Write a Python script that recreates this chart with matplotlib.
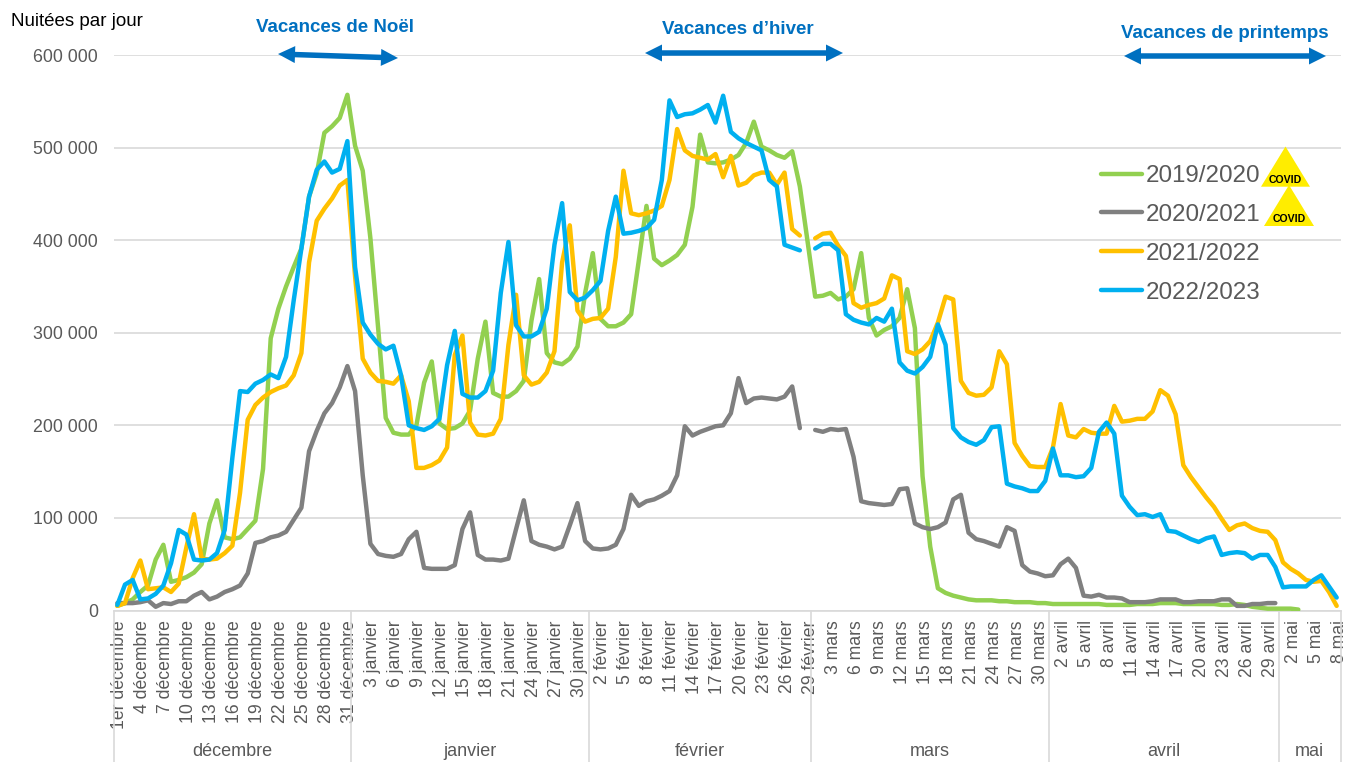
import numpy as np
import matplotlib
matplotlib.use("Agg")
import matplotlib.pyplot as plt
from matplotlib.patches import Polygon
from matplotlib.transforms import ScaledTranslation

plt.rcParams["font.family"] = ["Liberation Sans", "DejaVu Sans"]

W, H = 1347, 762
nan = np.nan

months = ["décembre", "janvier", "février", "mars", "avril", "mai"]
month_days = [31, 31, 29, 31, 30, 8]

# nuitees par jour, in thousands, from 1 Dec to 8 May
s2019 = [
    5, 8, 12, 20, 27, 55, 71, 31, 33, 36,
    41, 50, 94, 119, 79, 77, 79, 88, 97, 153,
    294, 326, 350, 371, 391, 447, 472, 516, 523, 532,
    557, 502, 475, 402, 306, 208, 192, 190, 190, 200,
    246, 269, 202, 196, 197, 202, 216, 272, 312, 235,
    231, 231, 237, 248, 313, 358, 278, 268, 266, 272,
    285, 343, 386, 315, 307, 307, 311, 320, 378, 437,
    380, 373, 378, 384, 395, 436, 514, 484, 483, 484,
    487, 492, 505, 528, 501, 497, 492, 489, 496, 458,
    399, 339, 340, 343, 336, 339, 347, 386, 316, 297,
    303, 307, 316, 347, 305, 145, 69, 24, 19, 16,
    14, 12, 11, 11, 11, 10, 10, 9, 9, 9,
    8, 8, 7, 7, 7, 7, 7, 7, 7, 6,
    6, 6, 6, 7, 7, 7, 8, 8, 8, 7,
    7, 7, 7, 7, 6, 6, 7, 6, 4, 3,
    2, 2, 2, 2, 1, nan, nan, nan, nan, nan,
]
s2020 = [
    8, 8, 8, 9, 11, 4, 8, 7, 10, 10,
    16, 20, 12, 15, 20, 23, 27, 40, 73, 75,
    79, 81, 85, 98, 111, 172, 194, 213, 224, 241,
    264, 237, 146, 72, 61, 59, 58, 61, 77, 85,
    46, 45, 45, 45, 49, 88, 106, 60, 55, 55,
    54, 56, 88, 119, 75, 71, 69, 66, 69, 92,
    116, 75, 67, 66, 67, 71, 88, 125, 113, 118,
    120, 124, 129, 146, 199, 189, 193, 196, 199, 200,
    213, 251, 224, 229, 230, 229, 228, 231, 242, 197,
    nan, 195, 193, 196, 195, 196, 166, 118, 116, 115,
    114, 115, 131, 132, 94, 90, 88, 90, 95, 120,
    125, 84, 77, 75, 72, 69, 90, 86, 49, 42,
    40, 37, 38, 50, 56, 46, 16, 15, 17, 14,
    14, 13, 9, 9, 9, 10, 12, 12, 12, 9,
    9, 10, 10, 10, 12, 12, 5, 5, 7, 7,
    8, 8, nan, nan, nan, nan, nan, nan, nan, nan,
]
s2021 = [
    5, 8, 35, 54, 23, 24, 25, 20, 29, 68,
    104, 56, 55, 56, 62, 70, 127, 206, 222, 230,
    236, 240, 243, 254, 278, 376, 421, 434, 445, 459,
    465, 361, 272, 257, 248, 247, 245, 254, 226, 154,
    154, 157, 162, 176, 276, 297, 203, 190, 189, 191,
    207, 287, 341, 254, 244, 247, 257, 280, 376, 416,
    324, 312, 315, 316, 326, 382, 475, 429, 427, 429,
    432, 437, 465, 520, 497, 491, 489, 487, 493, 468,
    491, 459, 462, 470, 473, 473, 460, 473, 412, 405,
    nan, 402, 407, 408, 394, 383, 332, 327, 330, 332,
    337, 362, 358, 280, 277, 282, 291, 311, 339, 336,
    248, 235, 232, 233, 241, 280, 266, 181, 167, 156,
    155, 155, 176, 223, 189, 187, 196, 192, 191, 191,
    221, 204, 205, 207, 207, 215, 238, 232, 212, 157,
    144, 133, 122, 112, 99, 87, 92, 94, 89, 86,
    85, 76, 52, 45, 40, 33, 31, 32, 20, 5,
]
s2022 = [
    6, 28, 33, 12, 13, 18, 27, 51, 87, 82,
    55, 54, 55, 62, 87, 165, 237, 236, 245, 249,
    255, 251, 274, 335, 391, 447, 476, 485, 473, 477,
    507, 371, 311, 298, 288, 282, 286, 254, 200, 197,
    195, 199, 207, 265, 302, 234, 230, 230, 237, 259,
    343, 398, 308, 296, 296, 301, 326, 395, 440, 344,
    335, 338, 346, 356, 410, 447, 407, 408, 410, 413,
    422, 465, 551, 533, 536, 537, 541, 546, 527, 556,
    517, 510, 505, 501, 497, 465, 458, 395, 392, 389,
    nan, 391, 396, 396, 389, 320, 314, 311, 309, 316,
    312, 326, 268, 259, 256, 263, 274, 309, 287, 197,
    187, 182, 179, 184, 198, 199, 137, 134, 132, 129,
    129, 140, 175, 146, 146, 144, 145, 154, 193, 203,
    191, 124, 112, 103, 104, 101, 104, 86, 85, 81,
    77, 74, 78, 80, 60, 62, 63, 62, 56, 60,
    60, 47, 25, 26, 26, 26, 33, 38, 26, 14,
]
series = ["2019/2020", "2020/2021", "2021/2022", "2022/2023"]
colors = ["#92D050", "#808080", "#FFC000", "#00B0F0"]


def fx(px):
    return px / W


def fy(py):
    return 1 - py / H


def day_labels():
    labels = []
    for m, n in zip(months, month_days):
        for d in range(1, n + 1):
            labels.append(f"1er {m}" if (d == 1 and m == "décembre") else f"{d} {m}")
    return labels


def double_arrow(fig, a, b, shaft=5.5, head_len=17, head_w=17, color="#0070C0"):
    """Filled two headed arrow between two pixel positions"""
    a, b = np.array(a, dtype=float), np.array(b, dtype=float)
    u = (b - a) / np.linalg.norm(b - a)
    n = np.array([-u[1], u[0]])
    pts = [
        a,
        a + u * head_len + n * head_w / 2,
        a + u * head_len + n * shaft / 2,
        b - u * head_len + n * shaft / 2,
        b - u * head_len + n * head_w / 2,
        b,
        b - u * head_len - n * head_w / 2,
        b - u * head_len - n * shaft / 2,
        a + u * head_len - n * shaft / 2,
        a + u * head_len - n * head_w / 2,
    ]
    fig.add_artist(Polygon([(fx(p[0]), fy(p[1])) for p in pts], closed=True, transform=fig.transFigure,
                           facecolor=color, edgecolor="none", zorder=5))


fig = plt.figure(figsize=(W / 100, H / 100), dpi=100)
ax = fig.add_axes([fx(113.5), fy(610.5), (1340.5 - 113.5) / W, (610.5 - 55) / H])

days = np.arange(sum(month_days))
for vals, name, col in zip([s2019, s2020, s2021, s2022], series, colors):
    ax.plot(days, np.array(vals, dtype=float) * 1000, color=col, lw=3.2, label=name,
            solid_joinstyle="round", solid_capstyle="round", zorder=3)

ax.set_xlim(-0.5, len(days) - 0.5)
ax.set_ylim(0, 600000)
yt = np.arange(0, 600001, 100000)
ax.set_yticks(yt)
ax.set_yticklabels(["0" if v == 0 else f"{v // 1000} 000" for v in yt], fontsize=12.8, color="#595959")
ax.grid(axis="y", color="#D9D9D9", lw=1.2, zorder=0)
ax.set_axisbelow(True)
for side in ["top", "right", "left"]:
    ax.spines[side].set_visible(False)
ax.spines["bottom"].set_color("#D9D9D9")
ax.spines["bottom"].set_linewidth(1.2)

labels = day_labels()
ax.set_xticks(days[::3])
ax.set_xticklabels(labels[::3], rotation=90, fontsize=12.7, color="#595959", ha="center", va="top")
ax.tick_params(axis="x", length=0, pad=7)
ax.tick_params(axis="y", length=0, pad=11)
shift = ScaledTranslation(2.5 / 100, 0, fig.dpi_scale_trans)
for lab in ax.get_xticklabels():
    lab.set_transform(lab.get_transform() + shift)

# month separators and names under the axis, kept just inside the bottom edge
tr = ax.get_xaxis_transform()
edges = np.concatenate([[0], np.cumsum(month_days)]) - 0.5
for e in edges:
    ax.plot([e, e], [0, -0.275], transform=tr, color="#D9D9D9", lw=1.2, clip_on=False)
for m, a, b in zip(months, edges[:-1], edges[1:]):
    ax.text((a + b) / 2, -0.2700, m, transform=tr, ha="center", va="bottom", fontsize=13,
            color="#595959", clip_on=False)

fig.text(fx(11), fy(21), "Nuitées par jour", fontsize=13.5, color="black", va="center")

# holiday arrows
holidays = [
    ("Vacances de Noël", 335, 27, (278, 54), (398, 58)),
    ("Vacances d\u2019hiver", 738, 29, (645, 53), (843, 53)),
    ("Vacances de printemps", 1225, 33, (1124, 56), (1326, 56)),
]
for txt, tx, ty, a, b in holidays:
    fig.text(fx(tx), fy(ty), txt, fontsize=13.5, fontweight="bold", color="#0070C0", ha="center", va="center")
    double_arrow(fig, a, b)

leg = ax.legend(loc="upper left", bbox_to_anchor=(fx(1101), fy(165)), bbox_transform=fig.transFigure,
                frameon=False, fontsize=17.4, handlelength=1.68, handletextpad=0.17, labelspacing=0.70,
                borderpad=0, borderaxespad=0)
for t in leg.get_texts():
    t.set_color("#595959")

# covid warning triangles
for cx, top, bottom, half in [(1285.5, 146.5, 186.7, 24.5), (1289, 185, 226, 25)]:
    tri = [(fx(cx), fy(top)), (fx(cx - half), fy(bottom)), (fx(cx + half), fy(bottom))]
    fig.add_artist(Polygon(tri, closed=True, transform=fig.transFigure, facecolor="#FFED00", edgecolor="none", zorder=5))
    fig.text(fx(cx), fy(bottom - 7), "COVID", fontsize=7.6, fontweight="bold", color="black", ha="center",
             va="center", zorder=6)

fig.savefig("out.png", dpi=100)
